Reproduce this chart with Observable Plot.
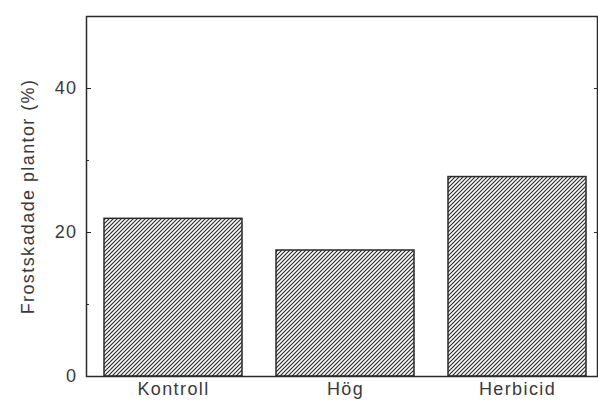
<!DOCTYPE html>
<html>
<head>
<meta charset="utf-8">
<script src="https://cdn.jsdelivr.net/npm/d3@7"></script>
<script src="https://cdn.jsdelivr.net/npm/@observablehq/plot@0.6"></script>
<style>
  html, body { margin: 0; padding: 0; background: #fff; }
  svg text { letter-spacing: 1.4px; }
</style>
</head>
<body>
<div id="chart"></div>
<script>
const categories = ["Kontroll", "Hög", "Herbicid"];
const values = [21.9, 17.5, 27.7];
const yMajorTicks = [0, 20, 40];
const yMinorTicks = [10, 30];
const yLabel = "Frostskadade plantor (%)";

const data = categories.map((c, i) => ({ category: c, value: values[i] }));
const ink = "#2a2a2a";
const textInk = "#3a3a3a";

const chart = Plot.plot({
  width: 598,
  height: 403,
  marginLeft: 86,
  marginRight: 1,
  marginTop: 16,
  marginBottom: 27,
  style: { fontFamily: "'Liberation Sans', Arial, sans-serif", fontSize: "18px", color: textInk, background: "#fff" },
  x: { domain: categories, range: [86, 603], paddingInner: 0.2, paddingOuter: 0.1, label: null },
  y: { domain: [0, 50], label: null },
  marks: [
    Plot.barY(data, { x: "category", y: "value", fill: "url(#hatch)", stroke: ink, strokeWidth: 1.5 }),
    Plot.frame({ stroke: ink, strokeWidth: 1.5 }),
    Plot.axisY({ ticks: yMajorTicks, tickSize: 0, tickPadding: 9, fontSize: 18 }),
    Plot.axisY({ ticks: yMajorTicks.filter(d => d > 0), tickSize: -5, tickFormat: () => "", stroke: ink }),
    Plot.axisY({ ticks: yMinorTicks, tickSize: -3, tickFormat: () => "", stroke: ink }),
    Plot.axisY({ anchor: "right", ticks: yMajorTicks.filter(d => d > 0), tickSize: -4, tickFormat: () => "", stroke: ink }),
    Plot.axisX({ tickSize: 0, tickPadding: 6, fontSize: 18 }),
    Plot.text([yLabel], { frameAnchor: "left", textAnchor: "middle", rotate: -90, dx: -58, fontSize: 18, fill: textInk })
  ]
});

const svg = d3.select(chart);
const defs = svg.insert("defs", ":first-child");
const pat = defs.append("pattern")
  .attr("id", "hatch")
  .attr("patternUnits", "userSpaceOnUse")
  .attr("width", 4)
  .attr("height", 4);
pat.append("rect").attr("width", 4).attr("height", 4).attr("fill", "#fff");
pat.append("path")
  .attr("d", "M-1,1 l2,-2 M0,4 l4,-4 M3,5 l2,-2")
  .attr("stroke", "#2a2a2a")
  .attr("stroke-width", 1.15);

document.getElementById("chart").appendChild(chart);
</script>
</body>
</html>
